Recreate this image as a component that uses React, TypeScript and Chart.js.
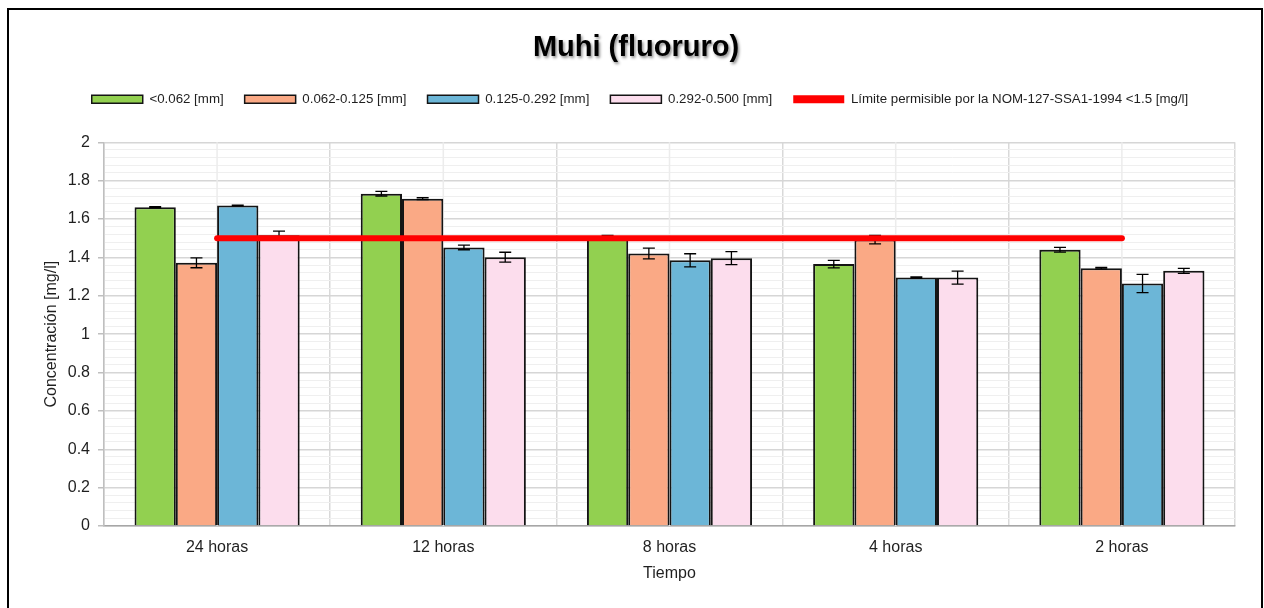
import React, { useEffect, useRef } from 'react';
import Chart from 'chart.js/auto';

const categories = ['24 horas', '12 horas', '8 horas', '4 horas', '2 horas'];
const seriesLabels = ['<0.062 [mm]', '0.062-0.125 [mm]', '0.125-0.292 [mm]', '0.292-0.500 [mm]'];
const fineValues = [1.662, 1.732, 1.505, 1.365, 1.44];
const fineErrors = [0.003, 0.012, 0.01, 0.02, 0.012];
const mediumValues = [1.372, 1.706, 1.42, 1.493, 1.344];
const mediumErrors = [0.026, 0.005, 0.028, 0.022, 0.004];
const coarseValues = [1.671, 1.452, 1.385, 1.295, 1.264];
const coarseErrors = [0.002, 0.012, 0.034, 0.003, 0.048];
const veryCoarseValues = [1.515, 1.401, 1.396, 1.295, 1.33];
const veryCoarseErrors = [0.022, 0.026, 0.034, 0.034, 0.013];
const limitLabel = 'Límite permisible por la NOM-127-SSA1-1994 <1.5 [mg/l]';
const limitValues = [1.5, 1.5, 1.5, 1.5, 1.5];
const titleText = 'Muhi (fluoruro)';
const yTitle = 'Concentración [mg/l]';
const xTitle = 'Tiempo';

const seriesValues = [fineValues, mediumValues, coarseValues, veryCoarseValues];
const seriesErrors = [fineErrors, mediumErrors, coarseErrors, veryCoarseErrors];
const seriesColors = ['#92D050', '#FAA985', '#6CB6D7', '#FCDDED'];

const FONT = '"Liberation Sans", Arial, sans-serif';
const TEXT = '#1f1f1f';

const isMajor = (v: number) => Math.abs(v * 5 - Math.round(v * 5)) < 1e-6;

const errorBarsPlugin = {
  id: 'errorBars',
  afterDatasetDraw(chart: any, args: any) {
    const idx = args.index;
    if (idx >= seriesErrors.length) return;
    const yScale = chart.scales.y;
    const ctx = chart.ctx;
    ctx.save();
    ctx.strokeStyle = '#000';
    ctx.lineWidth = 1.3;
    args.meta.data.forEach((bar: any, j: number) => {
      const v = seriesValues[idx][j];
      const e = seriesErrors[idx][j];
      const yTop = yScale.getPixelForValue(v + e);
      const yBot = yScale.getPixelForValue(v - e);
      const x = bar.x;
      const cap = 6;
      ctx.beginPath();
      ctx.moveTo(x, yTop);
      ctx.lineTo(x, yBot);
      ctx.moveTo(x - cap, yTop);
      ctx.lineTo(x + cap, yTop);
      ctx.moveTo(x - cap, yBot);
      ctx.lineTo(x + cap, yBot);
      ctx.stroke();
    });
    ctx.restore();
  },
};

const minorVerticalPlugin = {
  id: 'minorVertical',
  beforeDatasetsDraw(chart: any) {
    const { ctx, chartArea } = chart;
    const xScale = chart.scales.x;
    ctx.save();
    ctx.strokeStyle = '#ececec';
    ctx.lineWidth = 1.5;
    categories.forEach((_, i) => {
      const x = xScale.getPixelForValue(i);
      ctx.beginPath();
      ctx.moveTo(x, chartArea.top);
      ctx.lineTo(x, chartArea.bottom);
      ctx.stroke();
    });
    ctx.restore();
  },
};

const layoutTweaksPlugin = {
  id: 'layoutTweaks',
  beforeInit(chart: any) {
    const legend = chart.legend;
    if (legend) {
      const origFit = legend.fit;
      legend.fit = function () {
        origFit.call(this);
        this.height += 26.5;
      };
      const origDraw = legend.draw;
      legend.draw = function () {
        const c = this.ctx;
        c.save();
        c.translate(18, 0);
        origDraw.call(this);
        c.restore();
      };
    }
  },
  afterDraw(chart: any) {
    const tb = chart.titleBlock;
    if (!tb) return;
    const ctx = chart.ctx;
    ctx.save();
    ctx.font = `bold 29px ${FONT}`;
    ctx.textAlign = 'center';
    ctx.textBaseline = 'middle';
    ctx.fillStyle = '#000';
    ctx.shadowColor = 'rgba(0,0,0,0.45)';
    ctx.shadowBlur = 3;
    ctx.shadowOffsetX = 1.5;
    ctx.shadowOffsetY = 1.5;
    ctx.fillText(titleText, 627, tb.top + 19.6 + 17.4 + 1);
    ctx.restore();
  },
};

export default function App() {
  const canvasRef = useRef<HTMLCanvasElement | null>(null);

  useEffect(() => {
    if (!canvasRef.current) return;
    Chart.defaults.font.family = FONT;
    const defaultGen = (Chart as any).defaults.plugins.legend.labels.generateLabels;

    const barDatasets = seriesLabels.map((label, i) => ({
      type: 'bar' as const,
      label,
      data: seriesValues[i],
      backgroundColor: seriesColors[i],
      borderColor: '#141414',
      borderWidth: 2,
      categoryPercentage: 0.73,
      barPercentage: 1,
      order: 1,
    }));

    const chart = new Chart(canvasRef.current, {
      type: 'bar',
      data: {
        labels: categories,
        datasets: [
          ...barDatasets,
          {
            type: 'line' as const,
            label: limitLabel,
            data: limitValues,
            borderColor: '#FF0000',
            backgroundColor: '#FF0000',
            borderWidth: 6,
            borderCapStyle: 'round',
            pointRadius: 0,
            pointHoverRadius: 0,
            fill: false,
            order: 0,
          } as any,
        ],
      },
      options: {
        responsive: false,
        animation: false,
        layout: { padding: { left: 0, right: 26, top: 0, bottom: 0 } },
        plugins: {
          title: {
            display: true,
            text: titleText,
            color: 'rgba(0,0,0,0)',
            font: { size: 29, weight: 'bold', family: FONT, lineHeight: 1.2 },
            padding: { top: 19.6, bottom: 7.1 },
          },
          legend: {
            display: true,
            position: 'top',
            labels: {
              boxWidth: 51,
              boxHeight: 8,
              padding: 21,
              color: TEXT,
              font: { size: 13.3, family: FONT },
              sort: (a: any, b: any) => a.datasetIndex - b.datasetIndex,
              generateLabels: (chart: any) => {
                const items = defaultGen(chart);
                return items.map((it: any) => {
                  if (it.datasetIndex === 4) {
                    return { ...it, lineWidth: 0, fillStyle: '#FF0000', strokeStyle: '#FF0000' };
                  }
                  return { ...it, lineWidth: 1.5, strokeStyle: '#141414' };
                });
              },
            },
          },
          tooltip: { enabled: false },
        },
        scales: {
          x: {
            type: 'category',
            offset: true,
            afterFit: (s: any) => {
              s.height = 84;
            },
            grid: {
              offset: true,
              color: '#d9d9d9',
              lineWidth: 1.5,
              drawTicks: false,
            },
            border: { color: '#a6a6a6', width: 1.5 },
            ticks: {
              color: TEXT,
              padding: 12,
              font: { size: 16, family: FONT },
            },
            title: {
              display: true,
              text: xTitle,
              color: TEXT,
              font: { size: 16, family: FONT },
              padding: { top: 0, bottom: 26.4 },
            },
          },
          y: {
            type: 'linear',
            min: 0,
            max: 2,
            afterFit: (s: any) => {
              s.width = 95;
            },
            grid: {
              color: (c: any) => (isMajor(c.tick.value) ? '#d6d6d6' : '#efefef'),
              lineWidth: (c: any) => (isMajor(c.tick.value) ? 1.5 : 1),
              tickColor: (c: any) => (isMajor(c.tick.value) ? '#bfbfbf' : 'rgba(0,0,0,0)'),
              tickLength: 6,
              drawTicks: true,
            },
            border: { color: '#bfbfbf', width: 1.5 },
            ticks: {
              stepSize: 0.04,
              autoSkip: false,
              color: TEXT,
              padding: 8,
              font: { size: 16, family: FONT },
              callback: (value: any) => {
                const v = Number(value);
                return isMajor(v) ? String(Math.round(v * 10) / 10) : '';
              },
            },
            title: {
              display: true,
              text: yTitle,
              color: TEXT,
              font: { size: 16, family: FONT },
              padding: { top: 33.4, bottom: 0 },
            },
          },
        },
      },
      plugins: [errorBarsPlugin, minorVerticalPlugin, layoutTweaksPlugin],
    } as any);

    return () => chart.destroy();
  }, []);

  return (
    <div
      style={{
        position: 'fixed',
        left: 7,
        top: 8,
        width: 1252,
        height: 600,
        border: '2px solid #000',
        background: '#fff',
      }}
    >
      <canvas ref={canvasRef} width={1252} height={600} style={{ display: 'block' }} />
    </div>
  );
}
